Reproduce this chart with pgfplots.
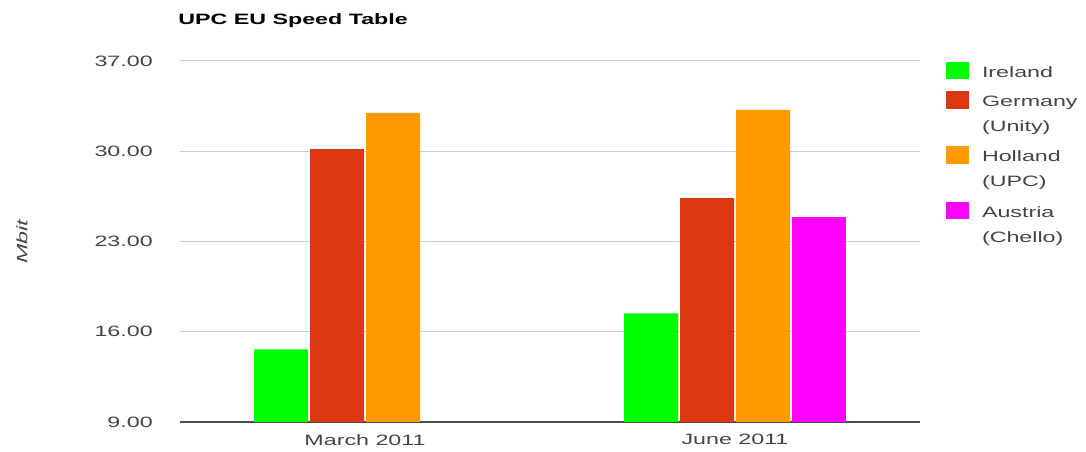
\documentclass[border=0pt]{standalone}
\usepackage{fontspec}
\setmainfont{Liberation Sans}[FakeStretch=1.55]
\usepackage{pgfplots}
\pgfplotsset{compat=1.18}
\definecolor{ireland}{HTML}{00FF00}
\definecolor{germany}{HTML}{DC3912}
\definecolor{holland}{HTML}{FF9900}
\definecolor{austria}{HTML}{FF00FF}
\definecolor{ticktext}{HTML}{444444}

\begin{document}
\fontsize{11.25pt}{18.75pt}\selectfont
\begin{tikzpicture}
\path[use as bounding box] (0,0) rectangle (814.5pt,339pt);
\begin{axis}[
    at={(135pt,22.5pt)}, anchor=south west,
    scale only axis,
    width=555pt, height=270.75pt,
    ybar=1.5pt, bar width=40.5pt,
    xmin=-0.5, xmax=1.5,
    ymin=9, ymax=37,
    xtick={0,1},
    xticklabels={March 2011, June 2011},
    ytick={9,16,23,30,37},
    major tick length=0pt,
    axis x line*=bottom, axis y line*=left,
    y axis line style={draw=none},
    x axis line style={black!70, line width=1pt},
    ymajorgrids,
    grid style={black!20, line width=0.75pt},
    /pgf/number format/assume math mode=true,
    yticklabel style={/pgf/number format/fixed, /pgf/number format/fixed zerofill, /pgf/number format/precision=2},
    yticklabel style={anchor=east, inner sep=0pt, xshift=-20.25pt, text=ticktext},
    xticklabel style={anchor=north, inner sep=0pt, yshift=-9pt, text=ticktext},
    title={\bfseries UPC EU Speed Table},
    title style={at={(rel axis cs:-0.0027,1.089)}, anchor=west, inner sep=0pt, yshift=0pt},
    ylabel={\itshape Mbit},
    every axis y label/.style={at={(rel axis cs:-0.2135,0.5)}, rotate=90, anchor=center, text=ticktext},
]
\addplot[fill=ireland, draw=none] coordinates {(0,14.64) (1,17.43)};
\addplot[fill=germany, draw=none] coordinates {(0,30.16) (1,26.36)};
\addplot[fill=holland, draw=none] coordinates {(0,32.98) (1,33.21)};
\addplot[fill=austria, draw=none] coordinates {(1,24.89)};
\end{axis}
% legend, laid out by hand
\begin{scope}[every node/.style={anchor=base west, inner sep=0pt, text=ticktext}]
\fill[ireland] (709.5pt,279.5pt) rectangle (727pt,292.7pt);
\node at (736.3pt,281pt) {Ireland};
\fill[germany] (709.5pt,257pt) rectangle (727pt,271pt);
\node at (736.3pt,259.3pt) {Germany};
\node at (736.3pt,240.5pt) {(Unity)};
\fill[holland] (709.5pt,216.3pt) rectangle (727pt,229.5pt);
\node at (736.3pt,217.8pt) {Holland};
\node at (736.3pt,199pt) {(UPC)};
\fill[austria] (709.5pt,174.5pt) rectangle (727pt,187.7pt);
\node at (736.3pt,176pt) {Austria};
\node at (736.3pt,157.3pt) {(Chello)};
\end{scope}
\end{tikzpicture}
\end{document}
